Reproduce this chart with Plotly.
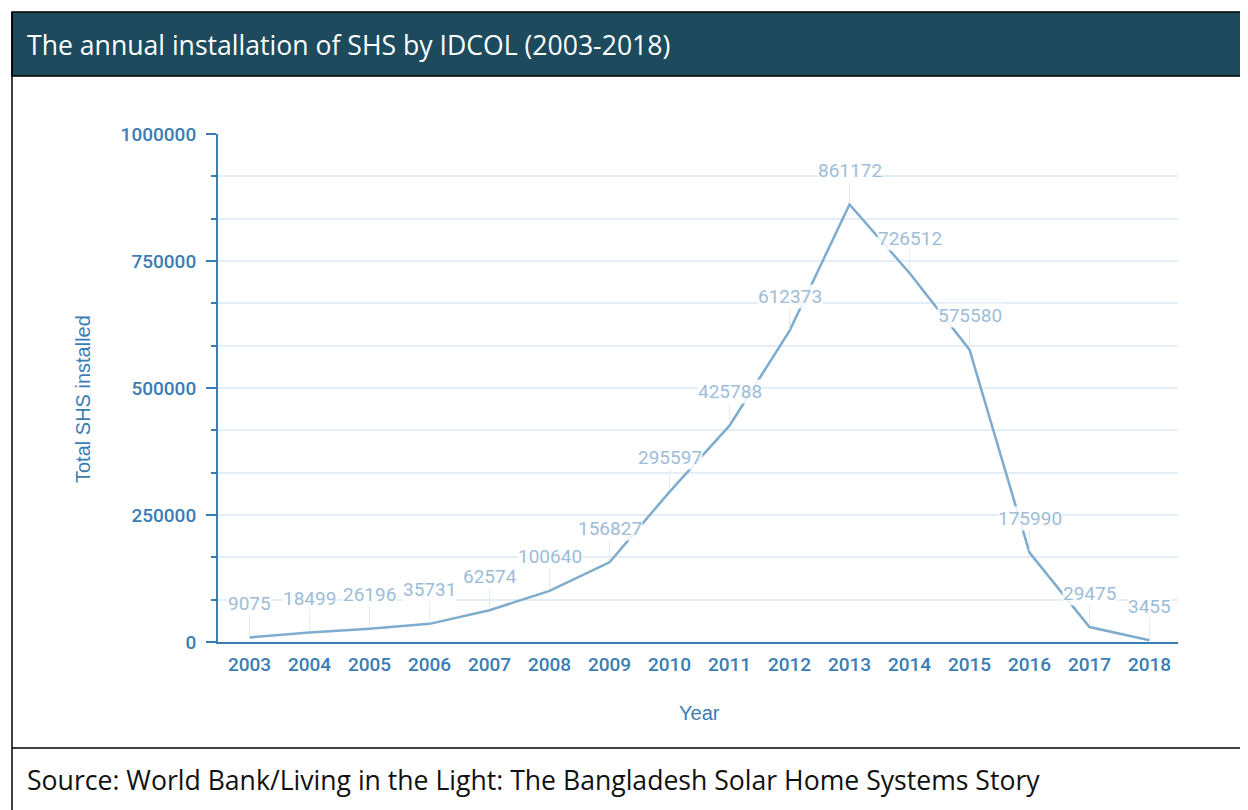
import plotly.graph_objects as go

years = list(range(2003, 2019))
installed = [9075, 18499, 26196, 35731, 62574, 100640, 156827, 295597,
             425788, 612373, 861172, 726512, 575580, 175990, 29475, 3455]
y_ticks = [0, 250000, 500000, 750000, 1000000]

title_text = "The annual installation of SHS by IDCOL (2003-2018)"
source_text = "Source: World Bank/Living in the Light: The Bangladesh Solar Home Systems Story"
x_title = "Year"
y_title = "Total SHS installed"

# page body has an 8px margin; figure is sized to fit the 1248x810 window
OFF = 8
W, H = 1240, 802
L, T = 210, 126
PW, PH = 960, 508
R = W - L - PW
B = H - T - PH


def px(x):  # page pixel x -> paper coordinate
    return (x - OFF - L) / PW


def py(y):  # page pixel y -> paper coordinate
    return (T + PH - (y - OFF)) / PH


axis_blue = "#3a7db4"
line_blue = "#7eaccf"
label_blue = "#9dbdd8"
grid = "#e4eef7"

fig = go.Figure()
fig.add_trace(go.Scatter(x=years, y=installed, mode="lines",
                         line=dict(color=line_blue, width=2.5),
                         hoverinfo="x+y", showlegend=False))

for yr, v in zip(years, installed):
    fig.add_annotation(x=yr, y=v, text=str(v), showarrow=True, ax=0, ay=-34,
                       arrowhead=0, arrowwidth=1, arrowcolor="#e2ecf5",
                       standoff=2, bgcolor="rgba(255,255,255,0.85)", borderpad=0,
                       font=dict(family="Roboto", size=19, color=label_blue))

shapes = [
    dict(type="rect", xref="paper", yref="paper", x0=px(12), x1=px(1260), y0=py(12), y1=py(76),
         fillcolor="#1d4a5d", line=dict(color="black", width=1.5), layer="below"),
    dict(type="line", xref="paper", yref="paper", x0=px(12), x1=px(12), y0=py(12), y1=py(830),
         line=dict(color="black", width=1.5)),
    dict(type="line", xref="paper", yref="paper", x0=px(12), x1=px(1260), y0=py(748), y1=py(748),
         line=dict(color="black", width=1.5)),
    dict(type="line", xref="paper", yref="paper", x0=px(209), x1=px(218), y0=0, y1=0,
         line=dict(color=axis_blue, width=2)),
]

extra = [
    dict(xref="paper", yref="paper", x=px(25), y=py(45), xanchor="left", yanchor="middle",
         text=title_text, showarrow=False,
         font=dict(family="Open Sans", size=26.6, color="white")),
    dict(xref="paper", yref="paper", x=px(25), y=py(780), xanchor="left", yanchor="middle",
         text=source_text, showarrow=False,
         font=dict(family="Open Sans", size=26.6, color="#111111")),
    dict(xref="paper", yref="paper", x=px(699), y=py(713), xanchor="center", yanchor="middle",
         text=x_title, showarrow=False,
         font=dict(family="Liberation Sans", size=20, color=axis_blue)),
    dict(xref="paper", yref="paper", x=px(83), y=py(399), xanchor="center", yanchor="middle",
         text=y_title, showarrow=False, textangle=-90,
         font=dict(family="Liberation Sans", size=20, color=axis_blue)),
]
for a in extra:
    fig.add_annotation(**a)

fig.update_layout(
    width=W, height=H,
    margin=dict(l=L, r=R, t=T, b=B, autoexpand=False),
    paper_bgcolor="white", plot_bgcolor="white",
    shapes=shapes,
    xaxis=dict(range=[2002.475, 2018.475], tickmode="array", tickvals=years,
               ticktext=[str(y) for y in years], showgrid=False, zeroline=False,
               showline=True, linecolor=axis_blue, linewidth=2, ticks="",
               ticklabelstandoff=4,
               tickfont=dict(family="Roboto", size=19, color=axis_blue, weight=500)),
    yaxis=dict(range=[0, 1000000], tickmode="array", tickvals=y_ticks,
               ticktext=[str(t) for t in y_ticks], showgrid=True, gridcolor=grid, gridwidth=1.5,
               zeroline=False, showline=True, linecolor=axis_blue, linewidth=2,
               ticks="outside", ticklen=10, tickcolor=axis_blue, tickwidth=2,
               ticklabelstandoff=6,
               minor=dict(dtick=250000 / 3, tick0=0, ticks="outside", ticklen=5,
                          tickcolor=axis_blue, tickwidth=2, showgrid=True, gridcolor=grid, gridwidth=1.5),
               tickfont=dict(family="Roboto", size=19, color=axis_blue, weight=500)),
)

fig.write_html("out.html")
